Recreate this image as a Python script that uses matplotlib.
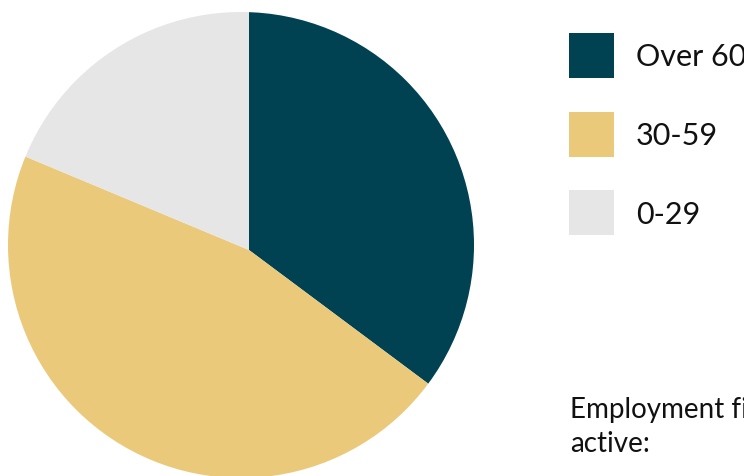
import matplotlib
matplotlib.use("Agg")
import matplotlib.pyplot as plt
from matplotlib.patches import Rectangle, Circle

plt.rcParams["font.family"] = ["Lato", "DejaVu Sans"]

categorias = ["Over 60", "30-59", "0-29"]
valores = [35.2, 46.1, 18.7]
cores = ["#004152", "#EAC97B", "#E6E6E6"]
nota = "Employment figures for firms still\nactive:"

W, H = 744, 476
fig = plt.figure(figsize=(W / 100, H / 100), dpi=100)

# eixo em pixels (y para cima)
ax = fig.add_axes([0, 0, 1, 1])

# circulo da pizza e vertice das fatias (levemente deslocado, como no original)
circ_x, circ_y, raio = 241, H - 245, 233
vert_x, vert_y = 249, H - 250

fatias, _ = ax.pie(valores, colors=cores, startangle=90, counterclock=False,
                   center=(vert_x, vert_y), radius=raio * 1.3,
                   wedgeprops={"linewidth": 0})

ax.set_xlim(0, W)
ax.set_ylim(0, H)
ax.set_aspect("equal")
ax.axis("off")

recorte = Circle((circ_x, circ_y), raio, facecolor="none", edgecolor="none")
ax.add_patch(recorte)
for f in fatias:
    f.set_clip_path(recorte)
    f.set_clip_on(True)

# legenda manual
lado = 45
for i, (nome, cor) in enumerate(zip(categorias, cores)):
    yc = H - (55.5 + i * 78.5)
    fig.patches.append(Rectangle((569 / W, (yc - lado / 2) / H), lado / W, lado / H,
                                 transform=fig.transFigure, facecolor=cor,
                                 edgecolor="none"))
    fig.text(636 / W, (yc - 2) / H, nome, fontsize=22, va="center", ha="left",
             color="#111111")

# nota (cortada na borda direita como no original)
fig.text(570 / W, (H - 452) / H, nota, fontsize=20, va="baseline", ha="left",
         color="#111111", linespacing=1.4)

fig.savefig("out.png", dpi=100)
